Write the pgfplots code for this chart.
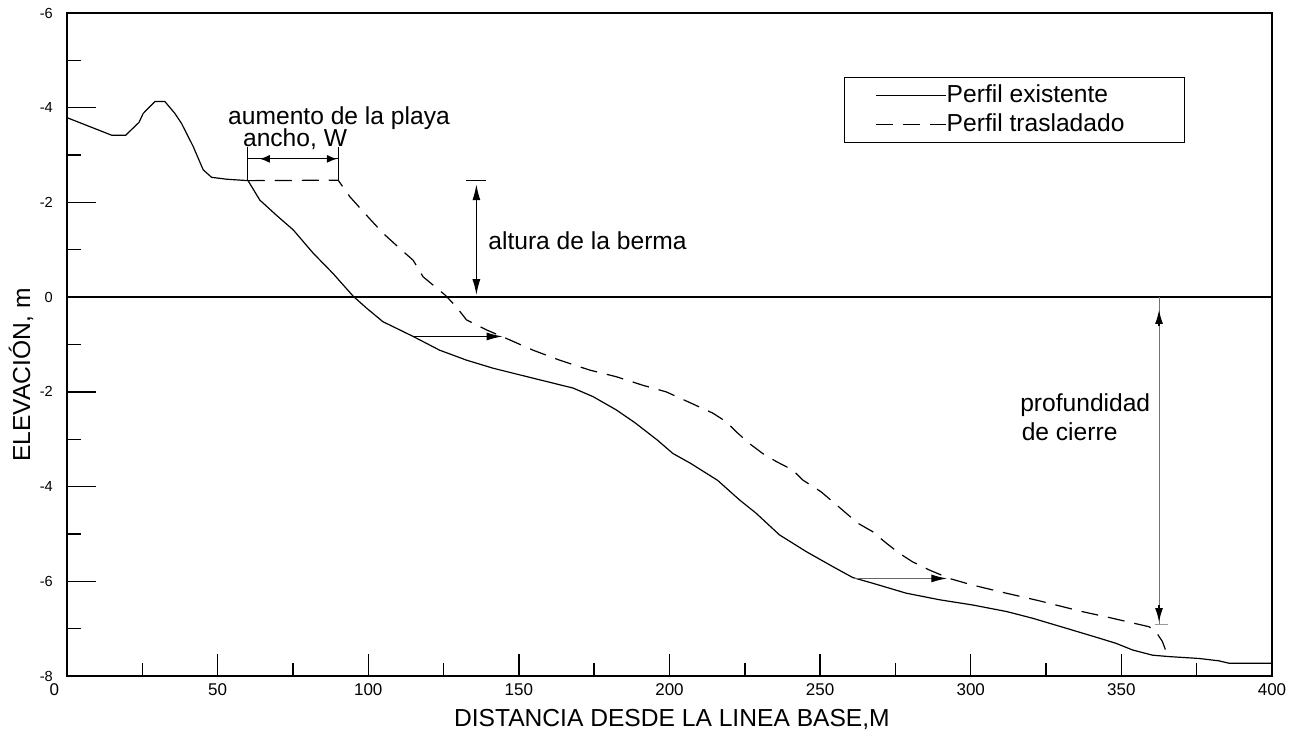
\documentclass[border=0pt]{standalone}
\usepackage{fontspec}
\setmainfont{Liberation Sans}
\usepackage{pgfplots}
\usepackage{pgfplotstable}
\pgfplotsset{compat=1.18}
\usetikzlibrary{arrows.meta}

\pgfplotstableread{
x y
0 3.79
14.8 3.42
19.5 3.42
23.9 3.69
25.3 3.88
29.2 4.13
32.5 4.13
35.8 3.88
38.0 3.67
41.9 3.18
45.2 2.69
48.0 2.53
53 2.49
60.1 2.46
64.0 2.05
69.5 1.73
75.1 1.42
81.7 0.93
88.3 0.50
95 0.02
99.4 -0.23
104.9 -0.52
110.4 -0.69
114.9 -0.83
123.7 -1.12
132.6 -1.33
141.4 -1.50
150.2 -1.64
159.1 -1.78
168 -1.92
174.6 -2.10
182.3 -2.38
188.5 -2.65
196 -3.02
201.1 -3.30
207 -3.51
216 -3.87
223.2 -4.28
228.7 -4.56
236.5 -5.02
245.3 -5.37
254.2 -5.69
260.8 -5.92
267.4 -6.04
278.5 -6.25
289.6 -6.39
300.6 -6.50
312 -6.64
320.5 -6.78
331.6 -6.99
342.6 -7.20
348.2 -7.31
353.7 -7.45
360.3 -7.56
365.8 -7.59
375.8 -7.63
382.4 -7.68
385.7 -7.73
400 -7.73
}\existing

\pgfplotstableread{
x y
60 2.46
90 2.47
93.9 2.12
99.4 1.73
104.9 1.35
111.3 0.98
114.9 0.78
118.2 0.43
125.6 0.04
129.3 -0.21
132.6 -0.48
139.2 -0.69
145.8 -0.87
154.7 -1.12
163.5 -1.33
173.5 -1.54
182.3 -1.68
191.1 -1.86
198.9 -2.00
207.9 -2.26
214.4 -2.45
218.8 -2.63
222.1 -2.84
226.5 -3.09
230.9 -3.30
235.4 -3.47
240.9 -3.65
244.2 -3.86
250.3 -4.11
254.2 -4.32
258.6 -4.56
262.4 -4.77
267.4 -4.95
271.3 -5.16
276.3 -5.41
280.7 -5.59
286.2 -5.76
292.9 -5.94
300.6 -6.08
311.7 -6.25
322.6 -6.41
337 -6.64
347 -6.78
359.2 -6.96
361.4 -7.06
363.6 -7.27
365.3 -7.56
}\moved

\begin{document}
\begin{tikzpicture}
\begin{axis}[
  scale only axis, width=602.5pt, height=331.5pt,
  xmin=0, xmax=400, ymin=-8, ymax=6,
  axis line style={line width=0.9pt},
  xtick={0,50,...,400},
  xticklabels={\llap{0\hspace{4pt}},50,100,150,200,250,300,350,400},
  ytick={-8,-6,...,6},
  yticklabels={-8,-6,-4,-2,0,-2,-4,-6},
  minor x tick num=1, minor y tick num=1,
  xtick pos=bottom, ytick pos=left, tick align=inside,
  major tick length=14.5pt, minor tick length=7pt,
  xtick style={/pgfplots/major tick length=11pt, /pgfplots/minor tick length=6.3pt},
  tick style={line width=0.7pt, black},
  xticklabel style={font=\fontsize{8.5}{10}\selectfont, inner sep=0pt, anchor=north, yshift=-3.6pt},
  yticklabel style={font=\fontsize{7.3}{9}\selectfont, inner sep=0pt, anchor=east, xshift=-6.9pt},
  xlabel={DISTANCIA DESDE LA LINEA BASE,M},
  ylabel={ELEVACIÓN, m},
  label style={font=\fontsize{12.3}{14}\selectfont, inner sep=0pt},
  xlabel style={at={(rel axis cs:0.502,-0.0769)}, anchor=base},
  ylabel style={at={(rel axis cs:-0.0307,0.454)}, anchor=base},
  legend cell align=left,
  legend style={at={(axis cs:257.9,4.65)}, anchor=north west, draw=black, line width=0.6pt,
    inner xsep=15.5pt, inner ysep=1.5pt, row sep=0pt, column sep=0pt,
    font=\fontsize{12.3}{14}\selectfont,
    nodes={inner sep=0pt, text height=11pt, text depth=3.7pt}},
  legend image code/.code={\draw[#1] (0pt,0pt) -- (35pt,0pt);},
]
\coordinate (O) at (rel axis cs:0,0);
\addplot[black, line width=0.6pt] table[x=x,y=y] {\existing};
\addlegendentry{\makebox[103.5pt][l]{Perfil existente}}
\addplot[black, line width=0.6pt, dash pattern=on 8.5pt off 5pt] table[x=x,y=y] {\moved};
\addlegendentry{\makebox[103.5pt][l]{Perfil trasladado}}
\addplot[black, line width=0.9pt, forget plot] coordinates {(0,0) (400,0)};

% W dimension
\draw[line width=0.5pt] (axis cs:60,2.46) -- (axis cs:60,3.17);
\draw[line width=0.5pt] (axis cs:90,2.47) -- (axis cs:90,3.17);
\draw[line width=0.6pt] (axis cs:60,2.92) -- (axis cs:90,2.92);
\draw[line width=0.6pt, -{Latex[length=5pt,width=4pt]}] (axis cs:68,2.92) -- (axis cs:64,2.92);
\draw[line width=0.6pt, -{Latex[length=5pt,width=4pt]}] (axis cs:85,2.92) -- (axis cs:89.6,2.92);
\node[anchor=base, inner sep=0pt, font=\fontsize{12.3}{14}\selectfont] at (axis cs:90.3,3.635) {aumento de la playa};
\node[anchor=base, inner sep=0pt, font=\fontsize{12.3}{14}\selectfont] at (axis cs:75.7,3.18) {ancho, W};

% altura de la berma
\draw[line width=0.5pt] (axis cs:132.6,2.47) -- (axis cs:139.2,2.47);
\draw[line width=0.7pt, {Latex[length=8pt,width=4pt]}-{Latex[length=8pt,width=4pt]}, shorten <=2pt, shorten >=1pt] (axis cs:135.9,2.47) -- (axis cs:135.9,0);
\node[anchor=base west, inner sep=0pt, font=\fontsize{12.3}{14}\selectfont] at (axis cs:139.75,1.0) {altura de la berma};

% shift arrows
\draw[line width=0.6pt, -{Latex[length=8pt,width=4pt]}] (axis cs:114.9,-0.83) -- (axis cs:144.6,-0.83);
\draw[black!60, line width=0.6pt, -{Latex[length=8pt,width=4pt,color=black]}] (axis cs:261.4,-5.94) -- (axis cs:292.2,-5.94);

% profundidad de cierre
\draw[black!55, line width=0.5pt] (axis cs:362.5,0) -- (axis cs:362.5,-6.92);
\draw[line width=0.6pt, -{Latex[length=7pt,width=4pt]}] (axis cs:362.5,-0.6) -- (axis cs:362.5,-0.27);
\draw[line width=0.6pt, -{Latex[length=7pt,width=4pt]}] (axis cs:362.5,-6.5) -- (axis cs:362.5,-6.86);
\draw[black!40, line width=0.5pt] (axis cs:361,-6.92) -- (axis cs:365.5,-6.92);
\node[anchor=base west, inner sep=0pt, font=\fontsize{12.3}{14}\selectfont] at (axis cs:316.3,-2.42) {profundidad};
\node[anchor=base west, inner sep=0pt, font=\fontsize{12.3}{14}\selectfont] at (axis cs:316.8,-3.02) {de cierre};
\end{axis}
\pgfresetboundingbox
\path[use as bounding box] (O) ++(-33.5pt,-29pt) rectangle ++(647pt,367pt);
\end{tikzpicture}
\end{document}
